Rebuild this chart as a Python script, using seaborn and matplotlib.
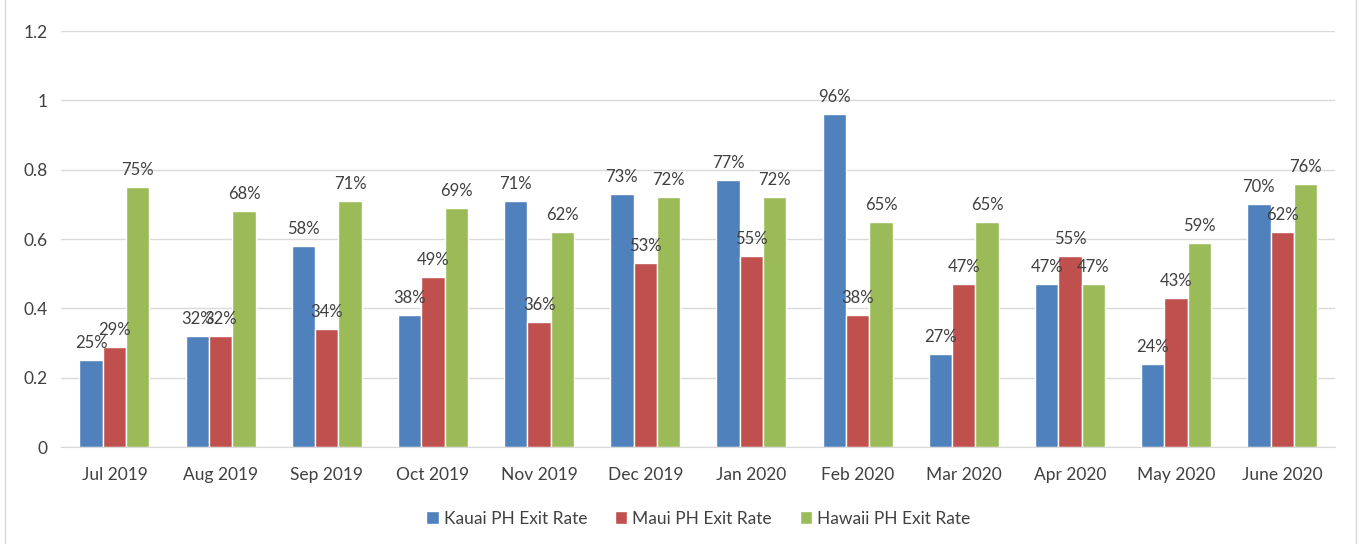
import pandas as pd
import seaborn as sns
import matplotlib.pyplot as plt
from matplotlib.patches import Rectangle

# Monthly PH exit rates by county
months = ["Jul 2019", "Aug 2019", "Sep 2019", "Oct 2019", "Nov 2019", "Dec 2019",
          "Jan 2020", "Feb 2020", "Mar 2020", "Apr 2020", "May 2020", "June 2020"]
kauai = [0.25, 0.32, 0.58, 0.38, 0.71, 0.73, 0.77, 0.96, 0.27, 0.47, 0.24, 0.70]
maui = [0.29, 0.32, 0.34, 0.49, 0.36, 0.53, 0.55, 0.38, 0.47, 0.55, 0.43, 0.62]
hawaii = [0.75, 0.68, 0.71, 0.69, 0.62, 0.72, 0.72, 0.65, 0.65, 0.47, 0.59, 0.76]
series = ["Kauai PH Exit Rate", "Maui PH Exit Rate", "Hawaii PH Exit Rate"]

df = pd.DataFrame({"Month": months, series[0]: kauai, series[1]: maui, series[2]: hawaii})
df = df.melt(id_vars="Month", var_name="Series", value_name="Rate")

colors = ["#4F81BD", "#C0504D", "#9BBB59"]
text_color = "#404040"

sns.set_style("white")
plt.rcParams["font.family"] = ["Lato", "DejaVu Sans"]

fig = plt.figure(figsize=(13.64, 5.44), dpi=100)
ax = fig.add_axes([0.045, 0.178, 0.934, 0.765])

sns.barplot(data=df, x="Month", y="Rate", hue="Series", order=months, hue_order=series,
            palette=colors, width=0.66, gap=0, saturation=1, ax=ax, zorder=2)

for container in ax.containers:
    ax.bar_label(container, labels=[f"{v * 100:.0f}%" for v in container.datavalues],
                 padding=6.5, fontsize=12, color=text_color)

ax.set_ylim(0, 1.2)
ax.set_yticks([0, 0.2, 0.4, 0.6, 0.8, 1.0, 1.2])
ax.set_yticklabels(["0", "0.2", "0.4", "0.6", "0.8", "1", "1.2"])
ax.set_xlim(-0.5, 11.5)
ax.yaxis.grid(True, color="#D9D9D9", linewidth=1, zorder=0)
ax.set_axisbelow(True)
for s in ["top", "right", "left"]:
    ax.spines[s].set_visible(False)
ax.spines["bottom"].set_color("#D9D9D9")
ax.tick_params(axis="y", length=0, labelsize=12.5, labelcolor=text_color, pad=10)
ax.tick_params(axis="x", length=0, labelsize=12.5, labelcolor=text_color, pad=14)
ax.set_xlabel("")
ax.set_ylabel("")

ax.legend(loc="upper center", bbox_to_anchor=(0.5, -0.115), ncol=3, frameon=False,
          fontsize=12.5, handlelength=0.7, handleheight=0.7, handletextpad=0.3,
          columnspacing=1.6, labelcolor=text_color)

# chart frame
fig.add_artist(Rectangle((0.004, -0.01), 0.99, 1.05, transform=fig.transFigure,
                         fill=False, edgecolor="#D9D9D9", linewidth=1))

fig.savefig("out.png", dpi=100)
